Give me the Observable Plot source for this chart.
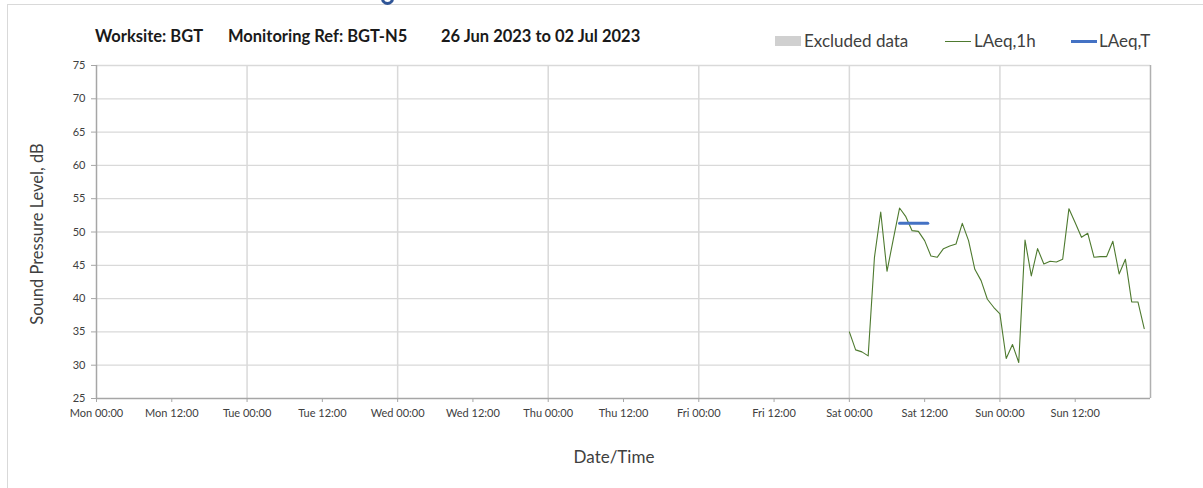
<!DOCTYPE html>
<html>
<head>
<meta charset="utf-8">
<script src="https://cdn.jsdelivr.net/npm/d3@7"></script>
<script src="https://cdn.jsdelivr.net/npm/@observablehq/plot@0.6"></script>
<style>
  html, body { margin: 0; padding: 0; background: #fff; }
  #page { position: relative; width: 1203px; height: 488px; overflow: hidden; font-family: Lato, "Open Sans", sans-serif; }
  #frame { position: absolute; left: 7px; top: 4px; right: -2px; bottom: -2px; border-top: 1px solid #d9d9d9; border-left: 1px solid #d9d9d9; }
  #blob { position: absolute; left: 381px; top: -4px; width: 13px; height: 9px; border-radius: 0 0 7px 7px; border: 3px solid #2f5597; border-top: none; box-sizing: border-box; }
  .tt { position: absolute; top: 26px; font-weight: bold; font-size: 16.5px; color: #1a1a1a; white-space: pre; }
  .lg { position: absolute; top: 31px; font-size: 17px; color: #404040; white-space: nowrap; line-height: 20px; }
  .sw { position: absolute; }
  #ylab { position: absolute; left: 37px; top: 234px; transform: translate(-50%, -50%) rotate(-90deg); font-size: 16.5px; color: #404040; white-space: nowrap; }
  #xlab { position: absolute; left: 614px; top: 446px; transform: translateX(-50%); font-size: 17px; color: #404040; }
  #chart { position: absolute; left: 0; top: 0; }
</style>
</head>
<body>
<div id="page">
  <div id="frame"></div>
  <div id="blob"></div>
  <div id="chart"></div>
  <div class="tt" style="left:95px">Worksite: BGT</div>
  <div class="tt" style="left:228px">Monitoring Ref: BGT-N5</div>
  <div class="tt" style="left:441px">26 Jun 2023 to 02 Jul 2023</div>
  <div id="legend"></div>
  <div id="ylab">Sound Pressure Level, dB</div>
  <div id="xlab">Date/Time</div>
</div>
<script>
// ---- data ----
const periodStart = "2023-06-26T00:00Z";
const periodEnd = "2023-07-03T00:00Z";
const yTicks = [25, 30, 35, 40, 45, 50, 55, 60, 65, 70, 75];
const dayGrid = ["2023-06-27T00:00Z","2023-06-28T00:00Z","2023-06-29T00:00Z","2023-06-30T00:00Z","2023-07-01T00:00Z","2023-07-02T00:00Z"];
const xTicks = ["2023-06-26T00:00Z","2023-06-26T12:00Z","2023-06-27T00:00Z","2023-06-27T12:00Z","2023-06-28T00:00Z","2023-06-28T12:00Z","2023-06-29T00:00Z","2023-06-29T12:00Z","2023-06-30T00:00Z","2023-06-30T12:00Z","2023-07-01T00:00Z","2023-07-01T12:00Z","2023-07-02T00:00Z","2023-07-02T12:00Z"];
const hourTimes = [
  "2023-07-01T00:00Z","2023-07-01T01:00Z","2023-07-01T02:00Z","2023-07-01T03:00Z","2023-07-01T04:00Z","2023-07-01T05:00Z",
  "2023-07-01T06:00Z","2023-07-01T07:00Z","2023-07-01T08:00Z","2023-07-01T09:00Z","2023-07-01T10:00Z","2023-07-01T11:00Z",
  "2023-07-01T12:00Z","2023-07-01T13:00Z","2023-07-01T14:00Z","2023-07-01T15:00Z","2023-07-01T16:00Z","2023-07-01T17:00Z",
  "2023-07-01T18:00Z","2023-07-01T19:00Z","2023-07-01T20:00Z","2023-07-01T21:00Z","2023-07-01T22:00Z","2023-07-01T23:00Z",
  "2023-07-02T00:00Z","2023-07-02T01:00Z","2023-07-02T02:00Z","2023-07-02T03:00Z","2023-07-02T04:00Z","2023-07-02T05:00Z",
  "2023-07-02T06:00Z","2023-07-02T07:00Z","2023-07-02T08:00Z","2023-07-02T09:00Z","2023-07-02T10:00Z","2023-07-02T11:00Z",
  "2023-07-02T12:00Z","2023-07-02T13:00Z","2023-07-02T14:00Z","2023-07-02T15:00Z","2023-07-02T16:00Z","2023-07-02T17:00Z",
  "2023-07-02T18:00Z","2023-07-02T19:00Z","2023-07-02T20:00Z","2023-07-02T21:00Z","2023-07-02T22:00Z","2023-07-02T23:00Z"
];
const laeq1h = [
  35.0, 32.3, 32.0, 31.4, 46.2, 53.0, 44.1, 48.9, 53.6, 52.3, 50.2, 50.1,
  48.7, 46.4, 46.2, 47.5, 47.9, 48.2, 51.3, 48.7, 44.4, 42.7, 39.9, 38.7,
  37.7, 31.0, 33.1, 30.4, 48.8, 43.4, 47.5, 45.2, 45.6, 45.5, 45.9, 53.5,
  51.4, 49.2, 49.8, 46.2, 46.3, 46.3, 48.6, 43.7, 45.9, 39.5, 39.5, 35.5
];
const laeqTTimes = ["2023-07-01T08:00Z", "2023-07-01T12:30Z"];
const laeqTValue = [51.3, 51.3];
const legendItems = ["Excluded data", "LAeq,1h", "LAeq,T"];
const colors = { excluded: "#d0d0d0", h1: "#4e7a2f", T: "#4472c4" };

// ---- build ----
const P = d => new Date(d);
const series = hourTimes.map((t, i) => ({ t: P(t), v: laeq1h[i] }));
const tSeries = laeqTTimes.map((t, i) => ({ t: P(t), v: laeqTValue[i] }));
const fmt = d3.utcFormat("%a %H:%M");

const chart = Plot.plot({
  width: 1203,
  height: 488,
  marginTop: 65,
  marginBottom: 90,
  marginLeft: 96,
  marginRight: 53,
  style: { fontFamily: "Lato, 'Open Sans', sans-serif", fontSize: "11px", color: "#404040", background: "transparent" },
  x: { type: "utc", domain: [P(periodStart), P(periodEnd)] },
  y: { domain: [25, 75] },
  marks: [
    Plot.gridY(yTicks.slice(1), { stroke: "#d9d9d9", strokeOpacity: 1, strokeWidth: 1.3 }),
    Plot.gridX(dayGrid.map(P), { stroke: "#d9d9d9", strokeOpacity: 1, strokeWidth: 1.5 }),
    Plot.ruleX([P(periodEnd)], { stroke: "#b0b0b0", strokeWidth: 1.5 }),
    Plot.axisY(yTicks, { tickSize: 5, tickPadding: 6, stroke: "#a6a6a6", label: null, fill: "#404040" }),
    Plot.axisX(xTicks.map(P), { tickSize: 4, tickPadding: 7, stroke: "#a6a6a6", label: null, tickFormat: fmt, fill: "#404040" }),
    Plot.ruleX([P(periodStart)], { stroke: "#a6a6a6", strokeWidth: 1.5 }),
    Plot.ruleY([25], { stroke: "#a6a6a6", strokeWidth: 1.5 }),
    Plot.line(series, { x: "t", y: "v", stroke: colors.h1, strokeWidth: 1.1 }),
    Plot.line(tSeries, { x: "t", y: "v", stroke: colors.T, strokeWidth: 3 })
  ]
});
document.getElementById("chart").appendChild(chart);

// legend
const lg = document.getElementById("legend");
const swatchLeft = [775, 945, 1071];
const textLeft = [804, 974, 1099];
const swStyle = [
  `top:36px;width:26px;height:10px;background:${colors.excluded}`,
  `top:41px;width:26px;height:1.2px;background:${colors.h1}`,
  `top:40px;width:26px;height:3px;background:${colors.T}`
];
lg.innerHTML = legendItems.map((s, i) =>
  `<span class="sw" style="left:${swatchLeft[i]}px;${swStyle[i]}"></span>` +
  `<span class="lg" style="left:${textLeft[i]}px">${s}</span>`).join("");
</script>
</body>
</html>
